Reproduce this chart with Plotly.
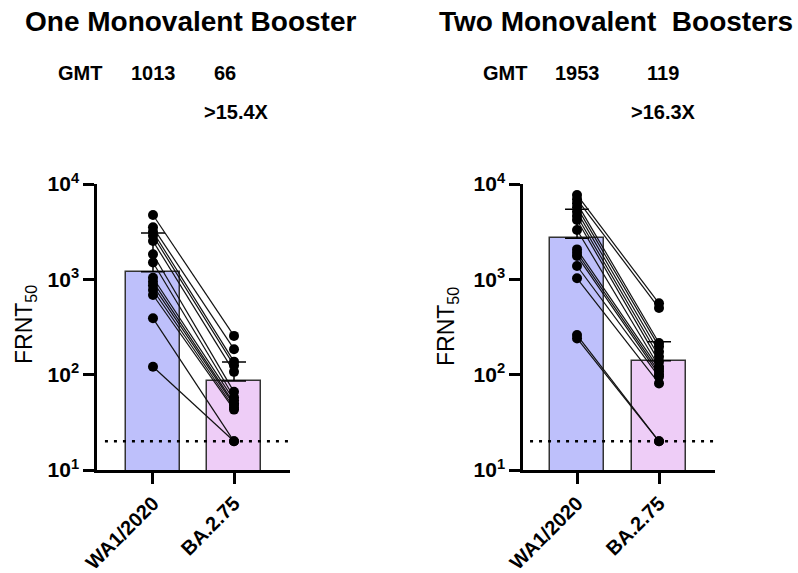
import plotly.graph_objects as go

W, H = 798, 573

categories = ["WA1/2020", "BA.2.75"]
tick_vals = [10, 100, 1000, 10000]
tick_text = ["10<sup>1</sup>", "10<sup>2</sup>", "10<sup>3</sup>", "10<sup>4</sup>"]

# One monovalent booster
one_wa = [4730, 3510, 3160, 2870, 2520, 1830, 1500, 1040, 945, 860, 773, 685, 390, 121]
one_ba = [255, 185, 137, 125, 107, 66, 58, 54, 50, 48, 45, 43, 20, 20]
one_bar = [1200, 86]
one_err_top = [3070, 136]

# Two monovalent boosters
two_wa = [7670, 6910, 6270, 5690, 5130, 4620, 4190, 3290, 2060, 1900, 1760, 1380, 1025, 260, 240]
two_ba = [560, 500, 215, 197, 174, 154, 137, 121, 115, 107, 100, 95, 81, 20, 20]
two_bar = [2690, 140]
two_err_top = [5420, 222]

limit_of_detection = 20

titles = ["One Monovalent Booster", "Two Monovalent\u00a0 Boosters"]
gmt_values = [["1013", "66"], ["1953", "119"]]
fold_text = [">15.4X", ">16.3X"]

bar_colors = ["#BEC0FB", "#EECDF7"]

fig = go.Figure()

panels = [
    dict(wa=one_wa, ba=one_ba, bar=one_bar, err=one_err_top, xa="x", ya="y",
         xdom=(97, 290), xr=(-0.691, 1.691), bw=0.667, dot=(-0.593, 1.691)),
    dict(wa=two_wa, ba=two_ba, bar=two_bar, err=two_err_top, xa="x2", ya="y2",
         xdom=(523, 715), xr=(-0.659, 1.683), bw=0.655, dot=(-0.573, 1.683)),
]

for p in panels:
    up = [t - v for t, v in zip(p["err"], p["bar"])]
    fig.add_trace(go.Bar(
        x=[0, 1], y=p["bar"], width=p["bw"],
        marker=dict(color=bar_colors, line=dict(color="#333333", width=1.5)),
        error_y=dict(type="data", symmetric=False, array=up, arrayminus=[0, 0],
                     color="black", thickness=1.5, width=12),
        xaxis=p["xa"], yaxis=p["ya"], showlegend=False,
    ))
    fig.add_trace(go.Scatter(
        x=list(p["dot"]), y=[limit_of_detection, limit_of_detection], mode="lines",
        line=dict(color="black", width=2.5, dash="3px,6px"),
        xaxis=p["xa"], yaxis=p["ya"], showlegend=False,
    ))
    lx, ly = [], []
    for a, b in zip(p["wa"], p["ba"]):
        lx += [0, 1, None]
        ly += [a, b, None]
    fig.add_trace(go.Scatter(
        x=lx, y=ly, mode="lines", line=dict(color="#111111", width=1.2),
        xaxis=p["xa"], yaxis=p["ya"], showlegend=False,
    ))
    fig.add_trace(go.Scatter(
        x=[0] * len(p["wa"]) + [1] * len(p["ba"]), y=p["wa"] + p["ba"], mode="markers",
        marker=dict(color="black", size=10),
        xaxis=p["xa"], yaxis=p["ya"], showlegend=False,
    ))

y_dom = ((H - 470) / H, (H - 184) / H)

axis_common = dict(showline=True, linecolor="black", linewidth=2.5, ticks="outside",
                   ticklen=11, tickwidth=2.5, tickcolor="black", showgrid=False,
                   zeroline=False, automargin=False)

layout = dict(
    width=W, height=H, margin=dict(l=0, r=0, t=0, b=0, autoexpand=False),
    paper_bgcolor="white", plot_bgcolor="white", bargap=0,
    font=dict(family="Liberation Sans, Arial, sans-serif", color="black"),
)
for i, p in enumerate(panels):
    sfx = "" if i == 0 else "2"
    layout["xaxis" + sfx] = dict(
        domain=[p["xdom"][0] / W, p["xdom"][1] / W], range=list(p["xr"]),
        tickvals=[0, 1], ticktext=[f"<b>{c}</b>" for c in categories],
        tickangle=-45, tickfont=dict(size=20), anchor="y" + sfx, **axis_common)
    layout["yaxis" + sfx] = dict(
        domain=list(y_dom), type="log", range=[1, 4], tickvals=tick_vals,
        ticktext=[f"<b>{t}</b>" for t in tick_text], tickfont=dict(size=21),
        anchor="x" + sfx, **axis_common)
fig.update_layout(**layout)

def ann(text, px, py, size, bold=True, angle=0):
    fig.add_annotation(
        text=f"<b>{text}</b>" if bold else text, x=px / W, y=1 - py / H,
        xref="paper", yref="paper", xanchor="center", yanchor="middle",
        showarrow=False, font=dict(size=size, color="black"), textangle=angle)

ann(titles[0], 190, 22, 28)
ann(titles[1], 616, 22, 28)
ann("GMT", 80, 73, 20)
ann(gmt_values[0][0], 153, 73, 20)
ann(gmt_values[0][1], 225, 73, 20)
ann(fold_text[0], 236, 112, 20)
ann("GMT", 505, 73, 20)
ann(gmt_values[1][0], 577, 73, 20)
ann(gmt_values[1][1], 663, 73, 20)
ann(fold_text[1], 663, 112, 20)
ann("FRNT<sub>50</sub>", 25, 325, 23, bold=False, angle=-90)
ann("FRNT<sub>50</sub>", 447, 327, 23, bold=False, angle=-90)

fig.write_html(
    "out.html",
    config={"displayModeBar": False},
    post_script="document.body.style.margin='0px';document.body.style.overflow='hidden';",
)
